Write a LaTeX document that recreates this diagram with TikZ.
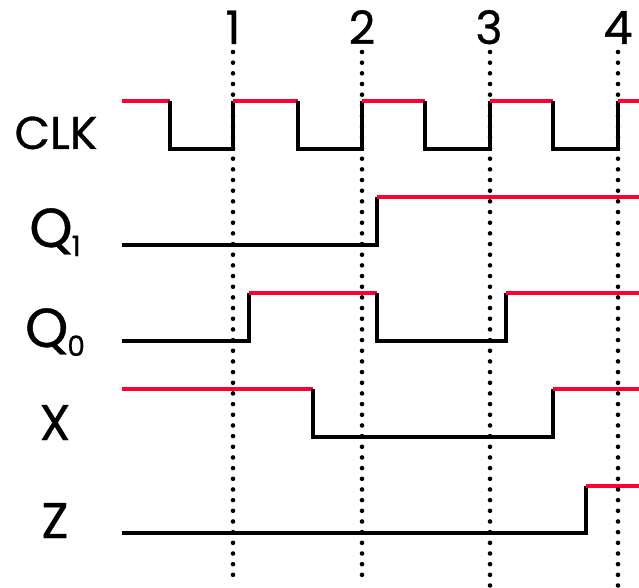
\documentclass[tikz,border=0pt]{standalone}
\usepackage{fontspec}
\setmainfont{Poppins}[FakeBold=0.7]
\definecolor{sigred}{RGB}{255,0,51}
\begin{document}
\begin{tikzpicture}[x=1pt,y=-1pt,
  hi/.style={draw=sigred, line width=4.6pt},
  lo/.style={draw=black, line width=4.6pt, line join=miter},
  tick/.style={draw=black, line width=4.6pt, line cap=round, dash pattern=on 0pt off 10.67pt},
  lab/.style={anchor=base, inner sep=0pt, font=\fontsize{50}{50}\selectfont},
  num/.style={anchor=base, inner sep=0pt, font=\fontsize{46}{46}\selectfont}]
\useasboundingbox (0,0) rectangle (639,588);
% labels
\node[lab, font=\fontsize{46}{46}\selectfont] (clk) at (56,149) {CLK};
\node[lab, font=\fontsize{55}{55}\selectfont] (q1) at (55,247) {Q\kern-1pt\raisebox{-9pt}{\fontsize{28}{28}\selectfont 1}};
\node[lab, font=\fontsize{55}{55}\selectfont] (q0) at (55,347) {Q\kern-1pt\raisebox{-9pt}{\fontsize{28}{28}\selectfont 0}};
\node[lab] (x) at (55,440) {X};
\node[lab] (z) at (55,538) {Z};
% numbers
\node[num] (n1) at (233,44) {1};
\node[num] (n2) at (362,44) {2};
\node[num] (n3) at (489,44) {3};
\node[num] (n4) at (618,44) {4};
% CLK
\draw[hi] (122,101) -- (170,101);
\draw[lo] (170,101) -- (170,149) -- (233,149) -- (233,101);
\draw[hi] (233,101) -- (298,101);
\draw[lo] (298,101) -- (298,149) -- (362,149) -- (362,101);
\draw[hi] (362,101) -- (425,101);
\draw[lo] (425,101) -- (425,149) -- (490,149) -- (490,101);
\draw[hi] (490,101) -- (553,101);
\draw[lo] (553,101) -- (553,149) -- (618,149) -- (618,101);
\draw[hi] (618,101) -- (639,101);
% Q1
\draw[lo] (122,245) -- (377,245) -- (377,197);
\draw[hi] (377,197) -- (639,197);
% Q0
\draw[lo] (122,341) -- (249,341) -- (249,293);
\draw[hi] (249,293) -- (377,293);
\draw[lo] (377,293) -- (377,341) -- (506,341) -- (506,293);
\draw[hi] (506,293) -- (639,293);
% X
\draw[hi] (122,389) -- (313,389);
\draw[lo] (313,389) -- (313,437) -- (553,437) -- (553,389);
\draw[hi] (553,389) -- (639,389);
% Z
\draw[lo] (122,533) -- (586,533) -- (586,486);
\draw[hi] (586,486) -- (639,486);
% clock edge markers
\coordinate (t1) at (233,52); \coordinate (b1) at (233,578);
\coordinate (t2) at (362,52); \coordinate (b2) at (362,578);
\coordinate (t3) at (490,52); \coordinate (b3) at (490,592);
\coordinate (t4) at (618,52); \coordinate (b4) at (618,592);
\draw[tick] (t1) -- (b1);
\draw[tick] (t2) -- (b2);
\draw[tick] (t3) -- (b3);
\draw[tick] (t4) -- (b4);
\end{tikzpicture}
\end{document}
